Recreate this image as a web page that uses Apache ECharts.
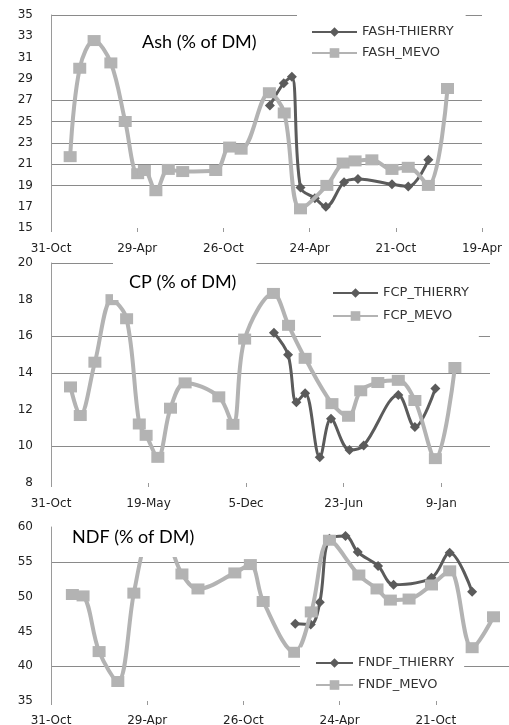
<!DOCTYPE html>
<html><head><meta charset="utf-8">
<script src="https://cdn.jsdelivr.net/npm/echarts@6/dist/echarts.min.js"></script>
<style>html,body{margin:0;padding:0;background:#fff}#c{width:509px;height:725px}</style>
</head><body><div id="c"></div>
<script>
// x values are days counted from the first tick (31-Oct)
const ashTickLabels = ['31-Oct','29-Apr','26-Oct','24-Apr','21-Oct','19-Apr'];
const cpTickLabels  = ['31-Oct','19-May','5-Dec','23-Jun','9-Jan'];
const ndfTickLabels = ['31-Oct','29-Apr','26-Oct','24-Apr','21-Oct','19-Apr'];

const mevoDays    = [40,60,90,125,155,181,195,219,245,275,344,373,397,456,487,521,576,610,635,670,712,746,788,828];
const thierryDays = [457,486,503,521,551,574,612,641,712,746,788];

const ashThierry = [26.5,28.6,29.2,18.8,17.8,17.0,19.3,19.6,19.1,18.9,21.4];
const ashMevo    = [21.7,30.0,32.6,30.5,25.0,20.1,20.4,18.5,20.5,20.3,20.4,22.6,22.4,27.7,25.8,16.8,19.0,21.1,21.3,21.4,20.5,20.7,19.0,28.1];

const cpThierry = [16.2,15.0,12.4,12.9,9.4,11.5,9.8,10.05,12.8,11.05,13.15];
const cpMevo    = [13.24,11.68,14.59,18.0,16.96,11.22,10.6,9.4,12.08,13.46,12.7,11.2,15.85,18.34,16.6,14.8,12.33,11.64,13.03,13.48,13.6,12.5,9.33,14.3];

const ndfThierry = [46.1,46.0,49.2,58.3,58.7,56.4,54.4,51.7,52.7,56.3,50.7];
const ndfMevo    = [50.3,50.1,42.1,37.8,50.5,59.5,60.5,58.0,53.25,51.1,53.4,54.6,49.3,42.0,47.8,58.1,53.1,51.1,49.5,49.65,51.67,53.7,42.66,47.1];

const names = {
  ash: ['FASH-THIERRY','FASH_MEVO'],
  cp:  ['FCP_THIERRY','FCP_MEVO'],
  ndf: ['FNDF_THIERRY','FNDF_MEVO']
};

const DARK = '#5b5b5b', LIGHT = '#b3b3b3', GRID = '#8a8a8a', NONE = 'rgba(0,0,0,0)';
const labelFont = {fontFamily:'DejaVu Sans', fontSize:12, color:'#222'};

function pairs(days, vals){ return days.map((d,i)=>[d, vals[i]]); }

function xAxis(gi, labels, interval, margin){
  const vals = labels.map((_,i)=>i*interval);
  return {
    type:'value', gridIndex:gi, min:0, max:900, interval:interval,
    axisLine:{show:false},
    axisTick:{show:true, length:4, lineStyle:{color:'#999'}, customValues: vals},
    axisLabel:Object.assign({margin:margin, showMinLabel:true, showMaxLabel:true, customValues: vals,
      formatter:v=>labels[Math.round(v/interval)] || ''}, labelFont),
    splitLine:{show:false}
  };
}
function yAxis(gi, min, max, interval, colors){
  return {
    type:'value', gridIndex:gi, min:min, max:max, interval:interval,
    axisLine:{show:true, lineStyle:{color:'#9a9a9a', width:1}},
    axisTick:{show:false},
    axisLabel:Object.assign({margin:18}, labelFont),
    splitLine:{show:true, lineStyle:{color:colors, width:1}}
  };
}
function thierry(name, gi, data){
  return {name, type:'line', xAxisIndex:gi, yAxisIndex:gi, data, smooth:0.35,
    symbol:'diamond', symbolSize:[10,10], showAllSymbol:true,
    lineStyle:{color:DARK, width:3}, itemStyle:{color:DARK}, z:2};
}
function mevo(name, gi, data){
  return {name, type:'line', xAxisIndex:gi, yAxisIndex:gi, data, smooth:0.35,
    symbol:'rect', symbolSize:[13,11], showAllSymbol:true,
    lineStyle:{color:LIGHT, width:4}, itemStyle:{color:LIGHT}, z:3};
}
const titleStyle = {fontFamily:'Lato', fontSize:18, fontWeight:'normal', color:'#000', lineHeight:20};
const legendText = {fontFamily:'DejaVu Sans', fontSize:13, color:'#333', lineHeight:15};

const option = {
  animation:false,
  backgroundColor:'#fff',
  title:[
    {text:'Ash (% of DM)', left:136, top:28, padding:[4,6,4,6], backgroundColor:'#fff', textStyle:titleStyle},
    {text:'CP (% of DM)', left:113, top:260, padding:[12,20,8,16], backgroundColor:'#fff', textStyle:titleStyle},
    {text:'NDF (% of DM)', left:65, top:522, padding:[5,12,10,7], backgroundColor:'#fff', textStyle:titleStyle}
  ],
  legend:[
    {data:names.ash, orient:'vertical', left:297, top:10.5, padding:[14,12,10,14], itemGap:6,
      itemWidth:45, itemHeight:12, backgroundColor:'#fff', textStyle:legendText},
    {data:names.cp, orient:'vertical', left:321, top:273.5, padding:[12,10,18,11], itemGap:8,
      itemWidth:45, itemHeight:12, backgroundColor:'#fff', textStyle:legendText},
    {data:names.ndf, orient:'vertical', left:300, top:647.5, padding:[8,10,6,15], itemGap:7,
      itemWidth:37, itemHeight:12, backgroundColor:'#fff', textStyle:legendText}
  ],
  grid:[
    {left:51, top:15, width:431, height:213, outerBoundsMode:'none', containLabel:false},
    {left:51, top:263, width:439, height:220, outerBoundsMode:'none', containLabel:false},
    {left:51, top:527, width:481, height:174, outerBoundsMode:'none', containLabel:false}
  ],
  xAxis:[
    xAxis(0, ashTickLabels, 180, 15),
    xAxis(1, cpTickLabels, 200, 15),
    xAxis(2, ndfTickLabels, 180, 14)
  ],
  yAxis:[
    // ticks 15..35: gridlines only at 19-27 and 35
    yAxis(0, 15, 35, 2, [NONE,NONE,GRID,GRID,GRID,GRID,GRID,NONE,NONE,NONE,GRID]),
    // ticks 8..20
    yAxis(1, 8, 20, 2, [NONE,GRID,NONE,GRID,GRID,NONE,GRID]),
    // ticks 35..60
    yAxis(2, 35, 60, 5, [NONE,GRID,NONE,NONE,GRID,NONE])
  ],
  series:[
    thierry(names.ash[0], 0, pairs(thierryDays, ashThierry)),
    mevo(names.ash[1], 0, pairs(mevoDays, ashMevo)),
    thierry(names.cp[0], 1, pairs(thierryDays, cpThierry)),
    mevo(names.cp[1], 1, pairs(mevoDays, cpMevo)),
    thierry(names.ndf[0], 2, pairs(thierryDays, ndfThierry)),
    mevo(names.ndf[1], 2, pairs(mevoDays, ndfMevo))
  ]
};
const chart = echarts.init(document.getElementById('c'), null, {renderer:'canvas'});
chart.setOption(option);
</script>
</body></html>
